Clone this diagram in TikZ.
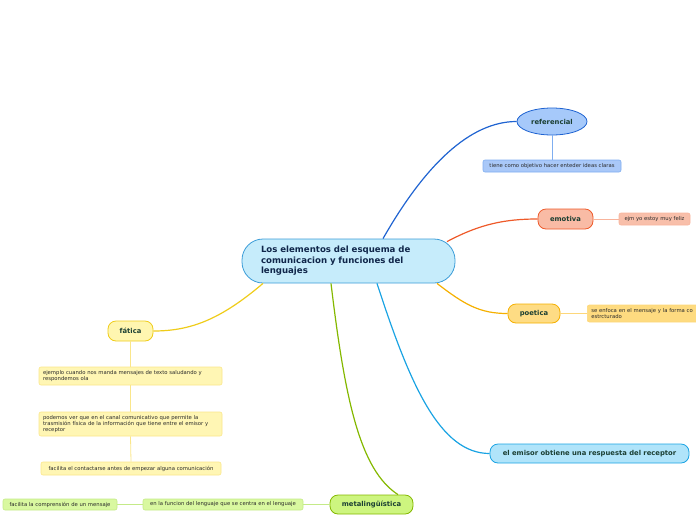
\documentclass[tikz,border=0pt]{standalone}
\usepackage{fontspec}
\setmainfont{DejaVu Sans}
\usetikzlibrary{shapes.geometric}

\definecolor{mainfill}{HTML}{C6ECFB}
\definecolor{maindraw}{HTML}{3C9DD8}
\definecolor{maintext}{HTML}{10264A}
\definecolor{toptext}{HTML}{1B3F33}
\definecolor{leaftext}{HTML}{2A2A2A}
\definecolor{reffill}{HTML}{A6C9FA}
\definecolor{refdraw}{HTML}{1F63D1}
\definecolor{refleaf}{HTML}{A9C8F8}
\definecolor{refline}{HTML}{7FAEF0}
\definecolor{emofill}{HTML}{F9BBA5}
\definecolor{emodraw}{HTML}{EE5A2A}
\definecolor{emoleaf}{HTML}{F8BFAA}
\definecolor{emoline}{HTML}{F8B49C}
\definecolor{poefill}{HTML}{FEDC84}
\definecolor{poedraw}{HTML}{F5B000}
\definecolor{poeleaf}{HTML}{FEDB80}
\definecolor{poeline}{HTML}{FDD77A}
\definecolor{emifill}{HTML}{B0E4FA}
\definecolor{emidraw}{HTML}{1AA3E3}
\definecolor{fatfill}{HTML}{FFF6B0}
\definecolor{fatdraw}{HTML}{EFCC1A}
\definecolor{fatleaf}{HTML}{FFF6B4}
\definecolor{fatline}{HTML}{FAE68A}
\definecolor{metafill}{HTML}{CDF57F}
\definecolor{metadraw}{HTML}{84B800}
\definecolor{metaleaf}{HTML}{D9F8A0}
\definecolor{metaline}{HTML}{C4EA88}

\begin{document}
\begin{tikzpicture}[x=1pt,y=-1pt,
  topic/.style={rounded corners=8pt,line width=0.8pt,inner sep=0pt,font=\fontsize{6.8}{8}\selectfont\bfseries,text=toptext},
  leaf/.style={rounded corners=2pt,line width=0.6pt,inner sep=0pt,font=\fontsize{5.3}{6.2}\selectfont,text=leaftext},
  branch/.style={line width=1.2pt},
  twig/.style={line width=0.8pt}]
\useasboundingbox (0,0) rectangle (696,520);
\node[draw=maindraw,fill=mainfill,rounded corners=21pt,line width=0.8pt,minimum width=213pt,minimum height=44pt,text width=175pt,align=left,text=maintext,font=\fontsize{8.6}{10.4}\selectfont\bfseries,inner sep=0pt] (main) at (348.5,261) {Los elementos del esquema de\\comunicacion y funciones del\\lenguajes};
\node[topic,ellipse,draw=refdraw,fill=reffill,minimum width=70pt,minimum height=27pt] (ref) at (552,121.5) {referencial};
\node[leaf,draw=refline,fill=refleaf,minimum width=138pt,minimum height=12pt] (refc) at (552,166) {tiene como objetivo hacer enteder ideas claras};
\node[topic,draw=emodraw,fill=emofill,minimum width=55pt,minimum height=20pt] (emo) at (565.5,219) {emotiva};
\node[leaf,draw=emoline,fill=emoleaf,minimum width=71pt,minimum height=12pt] (emoc) at (654.5,219) {ejm yo estoy muy feliz};
\node[topic,draw=poedraw,fill=poefill,minimum width=52pt,minimum height=19pt] (poe) at (534,313.5) {poetica};
\node[leaf,draw=poeline,fill=poeleaf,minimum width=135pt,minimum height=17pt,text width=128pt,inner xsep=4pt,align=left,anchor=west] (poec) at (587,313.5) {se enfoca en el mensaje y la forma co\\estrcturado};
\node[topic,draw=emidraw,fill=emifill,minimum width=199pt,minimum height=19pt] (emi) at (589.5,453.5) {el emisor obtiene una respuesta del receptor};
\node[topic,draw=fatdraw,fill=fatfill,minimum width=45pt,minimum height=20pt] (fat) at (130.5,331) {fática};
\node[leaf,draw=fatline,fill=fatleaf,minimum width=183pt,minimum height=18pt,text width=175pt,align=left] (fatc1) at (130.5,376) {ejemplo cuando nos manda mensajes de texto saludando y\\respondemos ola};
\node[leaf,draw=fatline,fill=fatleaf,minimum width=183pt,minimum height=24pt,text width=175pt,align=left] (fatc2) at (130.5,424) {podemos ver que en el canal comunicativo que permite la\\trasmisión física de la información que tiene entre el emisor y\\receptor};
\node[leaf,draw=fatline,fill=fatleaf,minimum width=180pt,minimum height=13pt] (fatc3) at (131,468.5) {facilita el contactarse antes de empezar  alguna comunicación};
\node[topic,draw=metadraw,fill=metafill,minimum width=83pt,minimum height=19pt] (meta) at (371.5,504.5) {metalingüística};
\node[leaf,draw=metaline,fill=metaleaf,minimum width=160pt,minimum height=11pt] (metac) at (223,504.5) {en la funcion del lenguaje que se centra en el lenguaje};
\node[leaf,draw=metaline,fill=metaleaf,minimum width=114pt,minimum height=11pt] (metac2) at (60,504.5) {facilita la comprensión de  un mensaje};
\draw[branch,draw=refdraw] ([xshift=34.5pt]main.north) .. controls (425,165) and (470,121.5) .. (ref.west);
\draw[branch,draw=emodraw] ([xshift=98.5pt,yshift=-3pt]main.north) .. controls (480,224) and (505,219) .. (emo.west);
\draw[branch,draw=poedraw] ([xshift=88.5pt]main.south) .. controls (465,305) and (480,313.5) .. (poe.west);
\draw[branch,draw=emidraw] ([xshift=28.5pt]main.south) .. controls (410,385) and (440,453.5) .. (emi.west);
\draw[branch,draw=fatdraw] ([xshift=-85.5pt]main.south) .. controls (220,320) and (190,331) .. (fat.east);
\draw[branch,draw=metadraw] ([xshift=-17.5pt]main.south) .. controls (345,400) and (360,470) .. ([xshift=26.5pt]meta.north);
\draw[twig,draw=refline] (ref.south) -- (refc.north);
\draw[twig,draw=emoline] (emo.east) -- (emoc.west);
\draw[twig,draw=poeline] (poe.east) -- (poec.west);
\draw[twig,draw=fatline] (fat.south) -- (fatc1.north);
\draw[twig,draw=fatline] (fatc1.south) -- (fatc2.north);
\draw[twig,draw=fatline] (fatc2.south) -- (fatc3.north);
\draw[twig,draw=metaline] (meta.west) -- (metac.east);
\draw[twig,draw=metaline] (metac.west) -- (metac2.east);
\end{tikzpicture}
\end{document}
